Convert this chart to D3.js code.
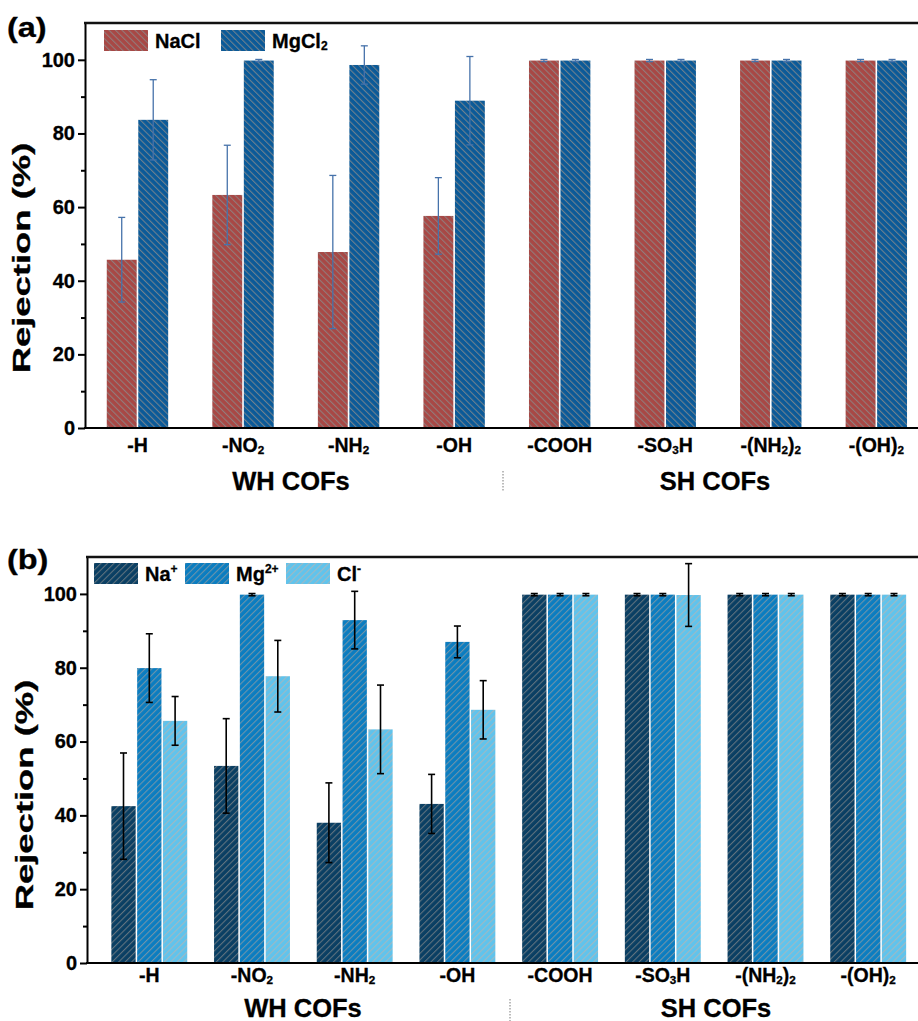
<!DOCTYPE html>
<html><head><meta charset="utf-8">
<script src="https://cdn.jsdelivr.net/npm/d3@7"></script>
<style>
body{margin:0;background:#fff;}
svg{display:block;font-family:"Liberation Sans",Arial,sans-serif;font-weight:bold;}
text{stroke:#000;stroke-width:0.3px;}
</style></head>
<body><svg id="c" width="918" height="1021"></svg>
<script>
// ---- data ----
const categories = ["-H","-NO_2","-NH_2","-OH","-COOH","-SO_3H","-(NH_2)_2","-(OH)_2"];
const groupLabels = ["WH COFs","SH COFs"];
const yTicks = [0,20,40,60,80,100];
const yMinorTicks = [10,30,50,70,90];

// panel (a)
const seriesA = ["NaCl","MgCl_2"];
const naclA    = [45.7, 63.3, 47.8, 57.6, 99.8, 99.8, 99.8, 99.8];
const naclErrA = [11.5, 13.5, 20.8, 10.4, 0.3, 0.3, 0.3, 0.3];
const mgcl2A    = [83.7, 99.8, 98.6, 88.9, 99.8, 99.8, 99.8, 99.8];
const mgcl2ErrA = [10.9, 0.3, 5.2, 12.0, 0.3, 0.3, 0.3, 0.3];

// panel (b)
const seriesB = ["Na^+","Mg^2+","Cl^-"];
const naB    = [42.5, 53.4, 38.0, 43.1, 99.8, 99.8, 99.8, 99.8];
const naErrB = [14.4, 12.8, 10.8, 8.0, 0.3, 0.3, 0.3, 0.3];
const mgB    = [79.9, 99.8, 92.9, 87.0, 99.8, 99.8, 99.8, 99.8];
const mgErrB = [9.3, 0.3, 7.8, 4.3, 0.3, 0.3, 0.3, 0.3];
const clB    = [65.6, 77.7, 63.3, 68.6, 99.8, 99.7, 99.8, 99.8];
const clErrB = [6.6, 9.7, 12.0, 7.9, 0.3, 8.5, 0.3, 0.3];

const svg = d3.select("#c");
const defs = svg.append("defs");

function hatch(id, color, dir, lineColor, op){
  const p = defs.append("pattern").attr("id", id).attr("patternUnits","userSpaceOnUse")
    .attr("width", 4.6).attr("height", 4.6)
    .attr("patternTransform", `rotate(${dir})`);
  p.append("rect").attr("width",4.6).attr("height",4.6).attr("fill",color);
  p.append("line").attr("x1",0.6).attr("y1",0).attr("x2",0.6).attr("y2",4.6)
    .attr("stroke",lineColor).attr("stroke-width",0.9).attr("stroke-opacity",op);
}
hatch("hNaCl", "#A84845", -45, "#8a8a8a", 0.95);
hatch("hMgCl", "#0B5A98", -45, "#8a8a8a", 0.95);
hatch("hNa", "#0A3F63", 45, "#8c8c8c", 0.8);
hatch("hMg", "#0B7DC0", 45, "#a0a0a0", 0.8);
hatch("hCl", "#60C3EC", 45, "#b4b4b4", 0.9);

// rich text: "_x" subscript char, "^xx" superscript to end
function rich(sel, str, size){
  const parts = [];
  let i=0;
  while(i<str.length){
    if(str[i]==="_"){ parts.push({t:str[i+1], k:"sub"}); i+=2; }
    else if(str[i]==="^"){ parts.push({t:str.slice(i+1), k:"sup"}); break; }
    else { let j=i; while(j<str.length && str[j]!=="_" && str[j]!=="^") j++; parts.push({t:str.slice(i,j),k:"n"}); i=j; }
  }
  let state="n";
  parts.forEach(p=>{
    const ts = sel.append("tspan").text(p.t);
    if(p.k==="sub"){ ts.attr("font-size", size*0.6).attr("dy", state==="sub"?0:size*0.12); }
    else if(p.k==="sup"){ ts.attr("font-size", size*0.6).attr("dy", -size*0.42); }
    else { ts.attr("font-size", size); if(state==="sub") ts.attr("dy", -size*0.12); }
    state = p.k;
  });
}

function panel(cfg){
  const g = svg.append("g");
  const y = d3.scaleLinear().domain([0,110]).range([cfg.yBottom, cfg.yTop]);
  const x = d3.scaleBand().domain(categories).range(cfg.xRange).padding(0);
  const xs = d3.scaleBand().domain(cfg.series.map((s,i)=>i)).range([-cfg.groupW/2, cfg.groupW/2]);
  const bw = xs.bandwidth() - cfg.gap;

  // bars
  cfg.values.forEach((vals, si)=>{
    g.append("g").selectAll("rect").data(vals).join("rect")
      .attr("x",(d,i)=> x(categories[i]) + x.bandwidth()/2 + xs(si) + cfg.gap/2)
      .attr("y", d=> y(d))
      .attr("width", bw)
      .attr("height", d=> y(0)-y(d))
      .attr("fill", `url(#${cfg.pats[si]})`);
  });
  // error bars
  cfg.values.forEach((vals, si)=>{
    const errs = cfg.errors[si];
    const eg = g.append("g").attr("stroke", cfg.errColor).attr("stroke-width", cfg.errW).attr("fill","none");
    vals.forEach((v,i)=>{
      const cx = x(categories[i]) + x.bandwidth()/2 + xs(si) + xs.bandwidth()/2;
      const lo = y(v-errs[i]), hi = y(v+errs[i]);
      eg.append("line").attr("x1",cx).attr("x2",cx).attr("y1",lo).attr("y2",hi);
      eg.append("line").attr("x1",cx-cfg.cap).attr("x2",cx+cfg.cap).attr("y1",hi).attr("y2",hi);
      eg.append("line").attr("x1",cx-cfg.cap).attr("x2",cx+cfg.cap).attr("y1",lo).attr("y2",lo);
    });
  });

  // axes
  const ax = g.append("g").attr("transform",`translate(${cfg.xAxis},0)`)
    .call(d3.axisLeft(y).tickValues(yTicks).tickSize(7).tickSizeOuter(0).tickPadding(3));
  ax.select(".domain").attr("stroke","#000").attr("stroke-width",2);
  ax.selectAll(".tick line").attr("stroke","#000").attr("stroke-width",2);
  ax.selectAll(".tick text").attr("font-size",20).attr("font-weight","bold")
    .attr("font-family",'"Liberation Sans",Arial,sans-serif').attr("fill","#000");
  const axm = g.append("g").attr("transform",`translate(${cfg.xAxis},0)`)
    .call(d3.axisLeft(y).tickValues(yMinorTicks).tickSize(4).tickFormat(""));
  axm.select(".domain").remove();
  axm.selectAll(".tick line").attr("stroke","#000").attr("stroke-width",2);

  g.append("line").attr("x1",cfg.xAxis-1).attr("x2",918).attr("y1",y(0)).attr("y2",y(0))
    .attr("stroke","#000").attr("stroke-width",2.2);
  g.append("line").attr("x1",cfg.xAxis-1).attr("x2",918).attr("y1",y(110)).attr("y2",y(110))
    .attr("stroke","#111").attr("stroke-width",2.4);

  // category labels
  categories.forEach(c=>{
    const t = g.append("text").attr("x", x(c)+x.bandwidth()/2).attr("y", cfg.catY)
      .attr("text-anchor","middle").attr("fill","#000");
    rich(t, c, 19.5);
  });
  // group labels
  groupLabels.forEach((l,i)=>{
    g.append("text").attr("x", cfg.groupX[i]).attr("y", cfg.groupY).attr("text-anchor","middle")
      .attr("font-size",25.5).attr("fill","#000").text(l);
  });
  g.append("line").attr("x1",cfg.sepX).attr("x2",cfg.sepX).attr("y1",cfg.sepY[0]).attr("y2",cfg.sepY[1])
    .attr("stroke","#555").attr("stroke-width",0.8).attr("stroke-dasharray","1.5,1.5");

  // y title (stretched along its length as in the reference)
  g.append("text").attr("transform",`translate(${cfg.titleX},${cfg.titleY}) rotate(-90) scale(1.55,1)`)
    .attr("text-anchor","middle").attr("font-size",23.5).attr("fill","#000").text("Rejection (%)");
  // panel letter
  g.append("text").attr("transform",`translate(7,${cfg.letterY}) scale(1.18,1)`)
    .attr("font-size",27.5).attr("fill","#000").text(cfg.letter);

  // legend
  cfg.series.forEach((s,i)=>{
    const lx = cfg.legX[i];
    g.append("rect").attr("x",lx).attr("y",cfg.legY).attr("width",44).attr("height",21)
      .attr("fill",`url(#${cfg.pats[i]})`);
    const t = g.append("text").attr("x",lx+51).attr("y",cfg.legY+18).attr("fill","#000");
    rich(t, s, 20);
  });
}

panel({
  letter:"(a)", letterY:37, yTop:23, yBottom:428, xAxis:85, xRange:[84.7, 929.1],
  groupW:63, gap:1.6, series:seriesA, values:[naclA, mgcl2A], errors:[naclErrA, mgcl2ErrA],
  pats:["hNaCl","hMgCl"], errColor:"#4672AA", errW:1.3, cap:3.5,
  catY:452, groupX:[291,715], groupY:490, sepX:503, sepY:[471,492], titleX:30, titleY:258,
  legX:[104,221], legY:30
});
panel({
  letter:"(b)", letterY:569, yTop:557, yBottom:963, xAxis:87, xRange:[97.95, 919.55],
  groupW:77.4, gap:1.5, series:seriesB, values:[naB, mgB, clB], errors:[naErrB, mgErrB, clErrB],
  pats:["hNa","hMg","hCl"], errColor:"#000", errW:1.6, cap:3.5,
  catY:982, groupX:[303,716], groupY:1017, sepX:510, sepY:[999,1021], titleX:33, titleY:795,
  legX:[94,185,286], legY:563
});
</script></body></html>
